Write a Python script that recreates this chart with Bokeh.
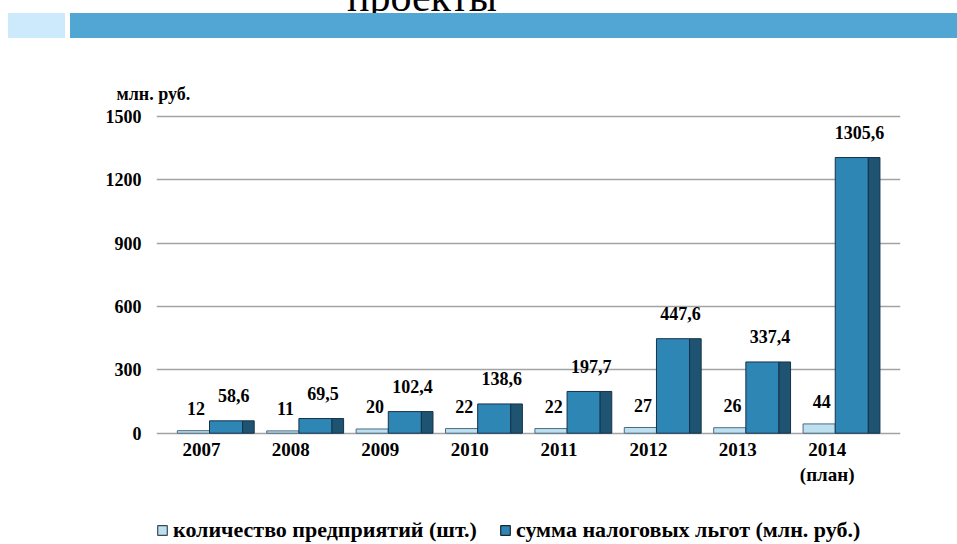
from bokeh.plotting import figure
from bokeh.layouts import column
from bokeh.models import (Range1d, FixedTicker, Legend, LegendItem, Div,
                          ColumnDataSource)
from bokeh.core.properties import value
from bokeh.embed import file_html
from bokeh.resources import INLINE

# ---- data ----
years = ["2007", "2008", "2009", "2010", "2011", "2012", "2013", "2014\n(план)"]
counts = [12, 11, 20, 22, 22, 27, 26, 44]
sums = [58.6, 69.5, 102.4, 138.6, 197.7, 447.6, 337.4, 1305.6]
count_labels = ["12", "11", "20", "22", "22", "27", "26", "44"]
sum_labels = ["58,6", "69,5", "102,4", "138,6", "197,7", "447,6", "337,4", "1305,6"]
y_ticks = [0, 300, 600, 900, 1200, 1500]
series_names = ["количество предприятий (шт.)", "сумма налоговых льгот (млн. руб.)"]
unit_label = "млн. руб."
title_text = "проекты"

LIGHT_FILL, LIGHT_LINE = "#bde0f1", "#4d6b80"
DARK_FILL, DARK_LINE, SIDE_FILL = "#2e86b5", "#16324a", "#1e5471"

idx = list(range(len(years)))
src = ColumnDataSource(dict(
    x_light=[i - 0.09 for i in idx],
    x_front=[i + 0.275 for i in idx],
    x_side=[i + 0.525 for i in idx],
    x_clab=[i - 0.06 for i in idx],
    x_slab=[i + 0.36 for i in idx],
    counts=counts, sums=sums, clab=count_labels, slab=sum_labels,
))

SERIF = "Liberation Serif"

# ---- header (title cut off at the top + blue banner) ----
header_html = (
    '<div style="position:relative;width:957px;height:44px;overflow:hidden;background:white;">'
    '<div style="position:absolute;left:0;width:844px;top:-24px;text-align:center;'
    f'font-family:\'{SERIF}\';font-size:42px;line-height:42px;color:black;">{title_text}</div>'
    '<div style="position:absolute;left:8px;top:13px;width:57px;height:25px;background:#cdeafd;"></div>'
    '<div style="position:absolute;left:70px;top:13px;width:887px;height:25px;background:#52a6d3;"></div>'
    '</div>'
)
header = Div(text=header_html, width=957, height=44, margin=0)

# ---- chart ----
p = figure(width=957, height=452, x_range=Range1d(-0.503, 7.82),
           y_range=Range1d(-15.6, 1556.8), output_backend="svg",
           toolbar_location=None, min_border_left=156, min_border_right=57,
           min_border_top=60, min_border_bottom=60, margin=0)
p.outline_line_color = None
p.background_fill_color = "white"
p.border_fill_color = "white"

# unit label as plot title
p.title.text = unit_label
p.title.align = "left"
p.title.offset = -40
p.title.standoff = 1
p.title.text_font = SERIF
p.title.text_font_style = "bold"
p.title.text_font_size = "18px"
p.title.text_color = "black"

# grid
p.xgrid.visible = False
p.ygrid.ticker = FixedTicker(ticks=y_ticks)
p.ygrid.grid_line_color = "#a3a3a3"
p.ygrid.grid_line_width = 1.5

# axes
p.yaxis.ticker = FixedTicker(ticks=y_ticks)
p.yaxis.axis_line_color = None
p.yaxis.major_tick_line_color = None
p.yaxis.minor_tick_line_color = None
p.yaxis.major_tick_out = 0
p.yaxis.major_tick_in = 0
p.yaxis.major_label_standoff = 15
p.yaxis.major_label_text_font = SERIF
p.yaxis.major_label_text_font_style = "bold"
p.yaxis.major_label_text_font_size = "18px"
p.yaxis.major_label_text_color = "black"

p.xaxis.ticker = FixedTicker(ticks=idx)
p.xaxis.major_label_overrides = {i: y for i, y in zip(idx, years)}
p.xaxis.axis_line_color = None
p.xaxis.major_tick_line_color = None
p.xaxis.minor_tick_line_color = None
p.xaxis.major_tick_out = 0
p.xaxis.major_tick_in = 0
p.xaxis.major_label_standoff = 2
p.xaxis.major_label_text_font = SERIF
p.xaxis.major_label_text_font_style = "bold"
p.xaxis.major_label_text_font_size = "19px"
p.xaxis.major_label_text_color = "black"

# bars
p.vbar(x="x_light", top="counts", bottom=0, width=0.36, source=src,
       fill_color=LIGHT_FILL, line_color=LIGHT_LINE, line_width=1)
p.vbar(x="x_front", top="sums", bottom=0, width=0.37, source=src,
       fill_color=DARK_FILL, line_color=DARK_LINE, line_width=1)
p.vbar(x="x_side", top="sums", bottom=0, width=0.13, source=src,
       fill_color=SIDE_FILL, line_color=DARK_LINE, line_width=1)

# value labels
p.text(x="x_clab", y="counts", text="clab", source=src, y_offset=-22,
       text_align="center", text_baseline="middle",
       text_font=value(SERIF), text_font_style="bold",
       text_font_size="18px", text_color="black")
p.text(x="x_slab", y="sums", text="slab", source=src, y_offset=-25,
       text_align="center", text_baseline="middle",
       text_font=value(SERIF), text_font_style="bold",
       text_font_size="18px", text_color="black")

# ---- legend strip (frame is aligned with the chart frame by the column) ----
lg = figure(width=957, height=48, x_range=Range1d(0, 1), y_range=Range1d(0, 1),
            output_backend="svg", toolbar_location=None, min_border=0,
            margin=0)
lg.axis.visible = False
lg.grid.visible = False
lg.outline_line_color = None
nan = float("nan")
key_src = ColumnDataSource(dict(x=[nan], top=[nan]))
g1 = lg.vbar(x="x", top="top", width=0.1, source=key_src,
             fill_color=LIGHT_FILL, line_color="#3a4a55", line_width=1.2)
g2 = lg.vbar(x="x", top="top", width=0.1, source=key_src,
             fill_color=DARK_FILL, line_color="#1a2530", line_width=1.2)
legend = Legend(items=[LegendItem(label=series_names[0], renderers=[g1]),
                       LegendItem(label=series_names[1], renderers=[g2])],
                orientation="horizontal", location=(0, 1),
                glyph_width=12, glyph_height=12, label_standoff=5,
                spacing=22, padding=0, margin=0,
                border_line_color=None, background_fill_alpha=0,
                label_text_font=SERIF, label_text_font_style="bold",
                label_text_font_size="22px", label_text_color="black")
lg.add_layout(legend, "center")

layout = column(header, p, lg, spacing=0, margin=0)
open("out.html", "w").write(file_html(layout, INLINE))
